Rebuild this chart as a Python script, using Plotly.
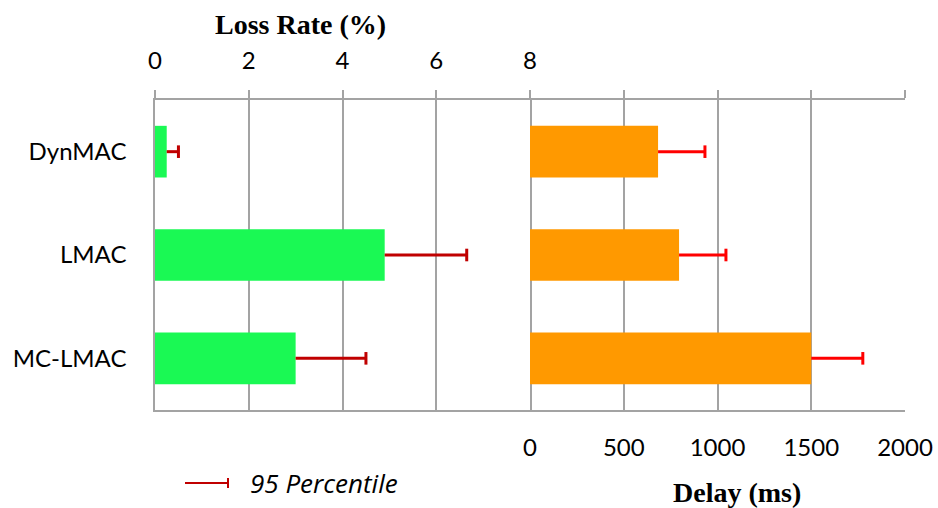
import plotly.graph_objects as go

categories = ["DynMAC", "LMAC", "MC-LMAC"]
loss_rate = [0.25, 4.9, 3.0]
loss_p95 = [0.5, 6.65, 4.5]
delay_ms = [683, 795, 1500]
delay_p95 = [933, 1045, 1775]
loss_ticks = [0, 2, 4, 6, 8]
delay_ticks = [0, 500, 1000, 1500, 2000]

W, H = 938, 508
L, R, T, B = 155, 33, 100, 98
PW, PH = W - L - R, H - T - B

def px(x):
    return (x - L) / PW

def py(y):
    return (H - B - y) / PH

GRID = "#A3A3A3"
FONT = "Lato"

fig = go.Figure()
fig.add_trace(go.Bar(
    y=categories, x=loss_rate, orientation="h", xaxis="x", yaxis="y",
    marker=dict(color="#1AF954", line=dict(width=0)), width=0.5,
    error_x=dict(type="data", symmetric=False,
                 array=[p - v for p, v in zip(loss_p95, loss_rate)],
                 arrayminus=[0] * 3, color="#C00000", thickness=3, width=0),
    showlegend=False, hoverinfo="skip"))
fig.add_trace(go.Scatter(
    y=categories, x=loss_p95, xaxis="x", yaxis="y", mode="markers",
    marker=dict(symbol="line-ns", size=9, line=dict(color="#C00000", width=3)),
    showlegend=False, hoverinfo="skip"))
fig.add_trace(go.Bar(
    y=categories, x=delay_ms, orientation="h", xaxis="x2", yaxis="y",
    marker=dict(color="#FF9900", line=dict(width=0)), width=0.5,
    error_x=dict(type="data", symmetric=False,
                 array=[p - v for p, v in zip(delay_p95, delay_ms)],
                 arrayminus=[0] * 3, color="#FF0000", thickness=3, width=0),
    showlegend=False, hoverinfo="skip"))
fig.add_trace(go.Scatter(
    y=categories, x=delay_p95, xaxis="x2", yaxis="y", mode="markers",
    marker=dict(symbol="line-ns", size=9, line=dict(color="#FF0000", width=3)),
    showlegend=False, hoverinfo="skip"))
fig.add_trace(go.Scatter(x=[None], y=[None], xaxis="x3", yaxis="y",
                         mode="markers", showlegend=False, hoverinfo="skip"))

tickfont = dict(family=FONT, size=24, color="black")

fig.update_layout(
    width=W, height=H, autosize=False,
    margin=dict(l=L, r=R, t=T, b=B, pad=0, autoexpand=False),
    paper_bgcolor="white", plot_bgcolor="white",
    barmode="overlay",
    xaxis=dict(domain=[0, 0.5], range=[0, 8], side="top", anchor="y",
               tickvals=loss_ticks, ticks="outside", ticklen=8, tickwidth=1.5,
               tickcolor=GRID, showgrid=True, gridcolor=GRID, gridwidth=1.5,
               showline=True, linecolor=GRID, linewidth=1.5, mirror=True,
               zeroline=False, tickfont=tickfont, ticklabelstandoff=12,
               automargin=False),
    xaxis2=dict(domain=[0.5, 1], range=[0, 2000], side="top", anchor="y",
                tickvals=delay_ticks, ticks="outside", ticklen=8, tickwidth=1.5,
                tickcolor=GRID, showgrid=True, gridcolor=GRID, gridwidth=1.5,
                showline=True, linecolor=GRID, linewidth=1.5, mirror=True,
                zeroline=False, showticklabels=False, automargin=False),
    xaxis3=dict(overlaying="x2", range=[0, 2000], side="bottom", anchor="y",
                tickvals=delay_ticks, ticks="", showgrid=False, showline=False,
                zeroline=False, tickfont=tickfont, ticklabelstandoff=21,
                automargin=False),
    yaxis=dict(domain=[0, 1], categoryorder="array", categoryarray=categories,
               autorange="reversed", showgrid=False, zeroline=False,
               showline=True, linecolor=GRID, linewidth=1.5, mirror=True,
               ticks="", tickfont=tickfont, ticklabelstandoff=22,
               automargin=False),
    annotations=[
        dict(text="<b>Loss Rate (%)</b>", xref="paper", yref="paper",
             x=px(300), y=py(24), xanchor="center", yanchor="middle",
             showarrow=False,
             font=dict(family="Liberation Serif", size=28, color="black")),
        dict(text="<b>Delay (ms)</b>", xref="paper", yref="paper",
             x=px(737), y=py(492), xanchor="center", yanchor="middle",
             showarrow=False,
             font=dict(family="Liberation Serif", size=28, color="black")),
        dict(text="<i>95 Percentile</i>", xref="paper", yref="paper",
             x=px(248), y=py(483), xanchor="left", yanchor="middle",
             showarrow=False,
             font=dict(family="Open Sans", size=26, color="black")),
    ],
    shapes=[
        dict(type="line", xref="paper", yref="paper",
             x0=px(185), x1=px(228), y0=py(483), y1=py(483),
             line=dict(color="#C00000", width=2)),
        dict(type="line", xref="paper", yref="paper",
             x0=px(228), x1=px(228), y0=py(478), y1=py(488),
             line=dict(color="#C00000", width=2)),
    ],
)

fig.write_html("out.html",
               config={"displayModeBar": False, "responsive": False},
               post_script="document.body.style.margin='0';document.body.style.overflow='hidden';")
